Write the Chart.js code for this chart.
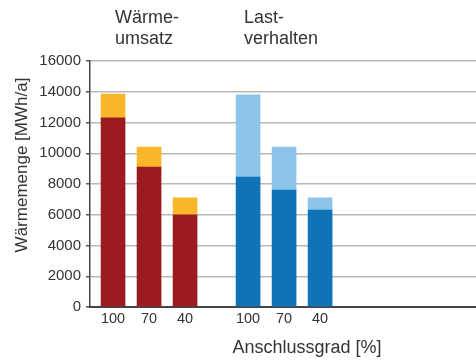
<!DOCTYPE html>
<html>
<head>
<meta charset="utf-8">
<script src="https://cdn.jsdelivr.net/npm/chart.js@4"></script>
<style>
  html, body { margin: 0; padding: 0; background: #ffffff; }
  canvas { display: block; }
</style>
</head>
<body>
<canvas id="chart" width="476" height="361"></canvas>
<script>
// Anschlussgrad categories shown under each group
const categories = ['100', '70', '40'];

// Group headings
const groupTitles = [['Wärme-', 'umsatz'], ['Last-', 'verhalten']];

// Wärmeumsatz [MWh/a]: base part and additional part on top
const waermeBase = [12300, 9100, 6000];
const waermeExtra = [1550, 1300, 1100];

// Lastverhalten [MWh/a]: base part and additional part on top
const lastBase = [8450, 7600, 6300];
const lastExtra = [5350, 2800, 800];

// Value axis ticks
const yMax = 16000;
const yStep = 2000;

const FONT = "'Liberation Sans', Arial, Helvetica, sans-serif";
const TEXT = '#333333';

// second group is set a little closer than a full empty slot
const GROUP_STEP = 3.75;
const xPos = (g, i) => i + g * GROUP_STEP;
const tickPositions = [];
const tickLabels = [];
[0, 1].forEach(g => categories.forEach((c, i) => {
  tickPositions.push(xPos(g, i));
  tickLabels.push(c);
}));

const toPoints = (g, values) => values.map((v, i) => ({ x: xPos(g, i), y: v }));

const textPlugin = {
  id: 'chartTexts',
  afterDraw(chart) {
    const ctx = chart.ctx;
    const x = chart.scales.x;
    ctx.save();
    ctx.fillStyle = TEXT;
    ctx.font = `18px ${FONT}`;
    ctx.textAlign = 'left';
    ctx.textBaseline = 'alphabetic';
    const anchors = [x.getPixelForValue(xPos(0, 0)) + 2, x.getPixelForValue(xPos(1, 0)) - 4];
    groupTitles.forEach((lines, g) => {
      lines.forEach((line, k) => ctx.fillText(line, anchors[g], 23 + k * 21));
    });

    // x axis title
    ctx.textAlign = 'center';
    ctx.fillText('Anschlussgrad [%]', 307, 353);

    // y axis title
    ctx.font = `17px ${FONT}`;
    ctx.translate(27, 165);
    ctx.rotate(-Math.PI / 2);
    ctx.fillText('Wärmemenge [MWh/a]', 0, 0);
    ctx.restore();
  }
};

new Chart(document.getElementById('chart'), {
  type: 'bar',
  data: {
    datasets: [
      { label: 'Wärmeumsatz', data: toPoints(0, waermeBase), backgroundColor: '#9b1b20' },
      { label: 'Wärmeumsatz (Zusatz)', data: toPoints(0, waermeExtra), backgroundColor: '#fab62b' },
      { label: 'Lastverhalten', data: toPoints(1, lastBase), backgroundColor: '#0f73b8' },
      { label: 'Lastverhalten (Zusatz)', data: toPoints(1, lastExtra), backgroundColor: '#8ec4e9' }
    ]
  },
  options: {
    responsive: false,
    devicePixelRatio: 1,
    animation: false,
    barThickness: 24,
    layout: { padding: { top: 61, left: 0, right: 0, bottom: 0 } },
    plugins: {
      legend: { display: false },
      tooltip: { enabled: false },
      title: { display: false }
    },
    scales: {
      x: {
        type: 'linear',
        stacked: true,
        offset: false,
        min: -0.64,
        max: 10.08,
        grid: { display: false, offset: false, drawTicks: false, tickLength: 0 },
        border: { display: true, color: '#444444', width: 2 },
        afterBuildTicks(scale) {
          scale.ticks = tickPositions.map(v => ({ value: v }));
        },
        afterFit(scale) { scale.height = 54; },
        ticks: {
          autoSkip: false,
          maxRotation: 0,
          padding: 3,
          color: TEXT,
          font: { family: FONT, size: 14.5 },
          callback: (v, i) => tickLabels[i]
        }
      },
      y: {
        stacked: true,
        min: 0,
        max: yMax,
        afterFit(scale) { scale.width = 90; },
        grid: { color: '#b9b9b9', lineWidth: 1.5, tickLength: 4, tickColor: '#555555' },
        border: { display: true, color: '#444444', width: 1.5 },
        ticks: {
          stepSize: yStep,
          padding: 5,
          color: TEXT,
          font: { family: FONT, size: 15 },
          callback: v => String(v)
        }
      }
    }
  },
  plugins: [textPlugin]
});
</script>
</body>
</html>
